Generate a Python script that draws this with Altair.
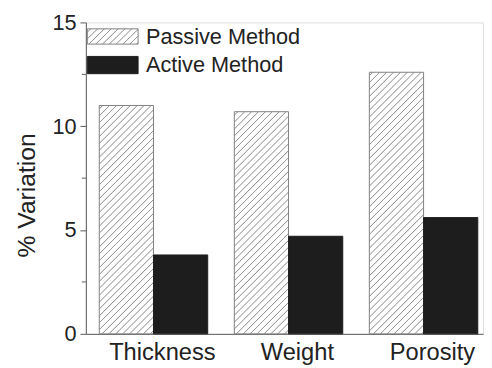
import altair as alt
import pandas as pd

categories = ["Thickness", "Weight", "Porosity"]
methods = ["Passive Method", "Active Method"]
passive = [11.0, 10.7, 12.6]
active = [3.8, 4.7, 5.6]
y_ticks = [0, 5, 10, 15]
y_minor = [2.5, 7.5, 12.5]

W, H = 403, 316
Y_MAX = 15
PAD_IN, PAD_OUT, ALIGN = 0.197, 0.069, 0.72
FONT = "Liberation Sans"
TXT = "#222222"
AX = "#5a5a5a"

rows = []
for c, p, a in zip(categories, passive, active):
    rows.append({"category": c, "method": methods[0], "value": p})
    rows.append({"category": c, "method": methods[1], "value": a})
df = pd.DataFrame(rows)

step = W / (len(categories) - PAD_IN + 2 * PAD_OUT)
bar_w = step * (1 - PAD_IN) / 2


def hatch(w, h, period=7.0, lw=1.2, color="#9a9a9a"):
    L = w + h
    e = 0.45
    stops = [{"offset": 0, "color": "white"}]
    c = period / 2
    while c < L:
        a0 = max(0.0, (c - lw / 2 - e) / L)
        a1 = max(0.0, (c - lw / 2 + e) / L)
        b0 = min(1.0, (c + lw / 2 - e) / L)
        b1 = min(1.0, (c + lw / 2 + e) / L)
        stops += [
            {"offset": a0, "color": "white"},
            {"offset": a1, "color": color},
            {"offset": b0, "color": color},
            {"offset": b1, "color": "white"},
        ]
        c += period
    stops.append({"offset": 1, "color": "white"})
    k = L / (w * w + h * h)
    return {"gradient": "linear", "x1": 0, "y1": 0, "x2": k * w, "y2": k * h, "stops": stops}


X = alt.X(
    "category:N",
    sort=categories,
    scale=alt.Scale(domain=categories, paddingInner=PAD_IN, paddingOuter=PAD_OUT, align=ALIGN),
    axis=alt.Axis(
        title=None, ticks=False, labelAngle=0, labelFontSize=24, labelPadding=7,
        labelOffset=9, labelColor=TXT, domainColor=AX, labelFont=FONT,
    ),
)
XO = alt.XOffset("method:N", scale=alt.Scale(domain=methods), sort=methods)
Y = alt.Y(
    "value:Q",
    scale=alt.Scale(domain=[0, Y_MAX], nice=False, zero=True),
    axis=alt.Axis(
        title="% Variation", values=y_ticks, tickSize=6, labelFontSize=22, labelPadding=4,
        labelColor=TXT, titleColor=TXT, titleFontSize=25, titleFontWeight="normal",
        titleX=-52, titleY=175, titleBaseline="alphabetic", titleAlign="center",
        domainColor=AX, tickColor=AX, grid=False, labelFont=FONT, titleFont=FONT,
    ),
)

layers = []
for c, p in zip(categories, passive):
    sub = df[(df.category == c) & (df.method == methods[0])]
    layers.append(
        alt.Chart(sub).mark_bar(
            fill=hatch(bar_w, p / Y_MAX * H), stroke="#808080", strokeWidth=1
        ).encode(x=X, xOffset=XO, y=Y)
    )

layers.append(
    alt.Chart(df[df.method == methods[1]]).mark_bar(
        fill="#1d1d1d", stroke="#1d1d1d", strokeWidth=1
    ).encode(x=X, xOffset=XO, y=Y)
)

minor = alt.Chart(pd.DataFrame({"v": y_minor})).mark_rule(color=AX, strokeWidth=1).encode(
    y=alt.Y("v:Q"), x=alt.value(-4), x2=alt.value(0)
)
layers.append(minor)

one = pd.DataFrame({"a": [0]})
sw_p = alt.Chart(one).mark_rect(fill=hatch(52, 16), stroke="#808080", strokeWidth=1).encode(
    x=alt.value(1.5), x2=alt.value(53), y=alt.value(6.5), y2=alt.value(22)
)
sw_a = alt.Chart(one).mark_rect(fill="#1d1d1d", stroke="#1d1d1d", strokeWidth=1).encode(
    x=alt.value(1.5), x2=alt.value(53), y=alt.value(34.5), y2=alt.value(52)
)
tx_p = alt.Chart(one).mark_text(
    align="left", baseline="alphabetic", fontSize=22, font=FONT, color=TXT
).encode(x=alt.value(61), y=alt.value(22), text=alt.value(methods[0]))
tx_a = alt.Chart(one).mark_text(
    align="left", baseline="alphabetic", fontSize=22, font=FONT, color=TXT
).encode(x=alt.value(61), y=alt.value(50), text=alt.value(methods[1]))
layers += [sw_p, sw_a, tx_p, tx_a]

chart = alt.layer(*layers).properties(
    width=W, height=H,
    autosize=alt.AutoSizeParams(type="none"),
    padding={"left": 79, "top": 12, "right": 1, "bottom": 32},
).configure_view(stroke="#6a6a6a", strokeWidth=1).configure(font=FONT, background="white")

chart.save("out.html", embed_options={"renderer": "svg", "actions": False})
